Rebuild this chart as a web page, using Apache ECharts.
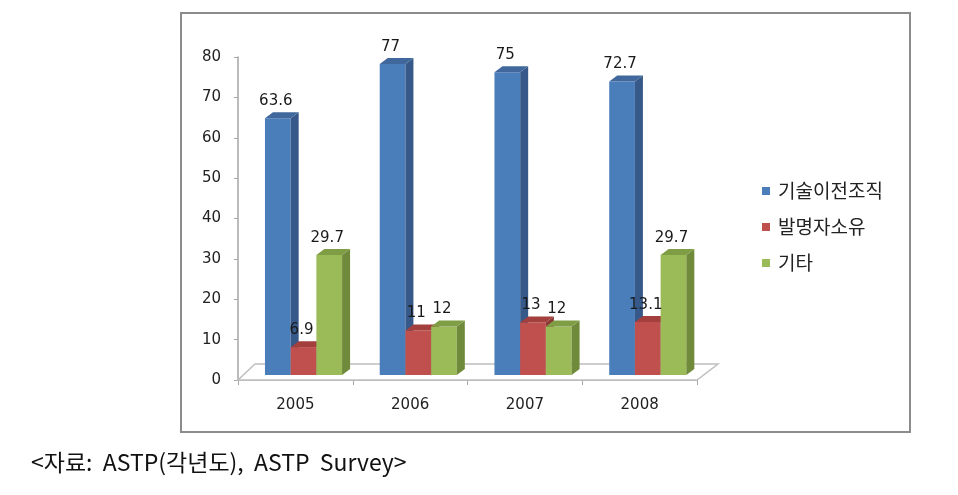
<!DOCTYPE html>
<html>
<head>
<meta charset="utf-8">
<script src="https://cdn.jsdelivr.net/npm/echarts@6/dist/echarts.min.js"></script>
<style>
html,body{margin:0;padding:0;background:#fff;}
#c{width:958px;height:495px;}
</style>
</head>
<body>
<div id="c"></div>
<script>
var categories = ['2005', '2006', '2007', '2008'];
var seriesNames = ['기술이전조직', '발명자소유', '기타'];
var techTransfer = [63.6, 77, 75, 72.7];
var inventorOwned = [6.9, 11, 13, 13.1];
var others = [29.7, 12, 12, 29.7];
var yTicks = [0, 10, 20, 30, 40, 50, 60, 70, 80];
var caption = '<자료:  ASTP(각년도),  ASTP  Survey>';

var palettes = [
  {front: '#4A7EBB', side: '#36598A', top: '#40689C'},
  {front: '#C0504D', side: '#8C3936', top: '#A33F3C'},
  {front: '#9BBB59', side: '#6F8A3B', top: '#7F9D45'}
];
var NUM_FONT = '"DejaVu Sans", Verdana, sans-serif';
var KR_FONT = '"Noto Sans CJK KR", sans-serif';

function makeRender(s) {
  var pal = palettes[s];
  return function (params, api) {
    var cat = api.value(0), v = api.value(1);
    var base = api.coord([cat, 0]);
    var topP = api.coord([cat, v]);
    var band = api.size([1, 0])[0];
    var w = band * 0.224;
    var x0 = base[0] - band * 0.265 + s * w;
    var lift = 5, dx = 8, dy = 6;
    var yb = base[1] - lift, yt = topP[1] - lift;
    return {
      type: 'group',
      children: [
        {type: 'rect', shape: {x: x0, y: yt, width: w, height: yb - yt}, style: {fill: pal.front}},
        {type: 'polygon', shape: {points: [[x0 + w, yb], [x0 + w + dx, yb - dy], [x0 + w + dx, yt - dy], [x0 + w, yt]]}, style: {fill: pal.side}},
        {type: 'polygon', shape: {points: [[x0, yt], [x0 + w, yt], [x0 + w + dx, yt - dy], [x0 + dx, yt - dy]]}, style: {fill: pal.top}},
        {type: 'text', z2: 10, style: {x: x0 + w / 2 - 2, y: yt - 17, text: String(v), align: 'center', verticalAlign: 'middle', fill: '#1a1a1a', font: '15px ' + NUM_FONT}}
      ]
    };
  };
}

function toData(arr) { return arr.map(function (v, i) { return [i, v]; }); }
var valueArrays = [techTransfer, inventorOwned, others];

var series = [{
  type: 'custom',
  name: 'floor',
  silent: true,
  z: 1,
  data: [[0, 0]],
  renderItem: function (params, api) {
    var cs = params.coordSys;
    var yb = cs.y + cs.height;
    var x1 = cs.x, x2 = cs.x + cs.width;
    var fdx = 18, fdy = 16;
    return {
      type: 'polygon',
      shape: {points: [[x1, yb], [x2, yb], [x2 + fdx + 3, yb - fdy], [x1 + fdx - 1, yb - fdy]]},
      style: {fill: '#fff', stroke: '#bfbfbf', lineWidth: 1.5}
    };
  }
}];
seriesNames.forEach(function (n, s) {
  series.push({
    type: 'custom',
    name: n,
    z: 3,
    itemStyle: {color: palettes[s].front},
    encode: {x: 0, y: 1},
    data: toData(valueArrays[s]),
    renderItem: makeRender(s)
  });
});

var chart = echarts.init(document.getElementById('c'));
chart.setOption({
  animation: false,
  backgroundColor: '#fff',
  title: {
    text: caption,
    left: 26, top: 446,
    textStyle: {fontFamily: KR_FONT, fontSize: 23, fontWeight: 'normal', color: '#111'}
  },
  graphic: [{
    type: 'rect', z: 0,
    shape: {x: 181, y: 13, width: 729, height: 419},
    style: {fill: 'none', stroke: '#8c8c8c', lineWidth: 2}
  }],
  legend: {
    orient: 'vertical',
    left: 757, top: 175,
    data: seriesNames,
    icon: 'rect',
    itemWidth: 8, itemHeight: 8,
    itemGap: 14,
    textStyle: {fontFamily: KR_FONT, fontSize: 19, color: '#222', lineHeight: 22, padding: [0, 0, 0, 3]}
  },
  grid: {left: 238, right: 261, top: 57, bottom: 115},
  xAxis: {
    type: 'category',
    data: categories,
    axisLine: {lineStyle: {color: '#a6a6a6', width: 1.5}},
    axisTick: {show: true, length: 5, lineStyle: {color: '#a6a6a6'}},
    axisLabel: {margin: 18, fontFamily: NUM_FONT, fontSize: 15, color: '#222'}
  },
  yAxis: {
    type: 'value',
    min: yTicks[0], max: yTicks[yTicks.length - 1], interval: 10,
    axisLine: {show: true, lineStyle: {color: '#a6a6a6', width: 1.5}},
    axisTick: {show: true, length: 4, lineStyle: {color: '#a6a6a6'}},
    splitLine: {show: false},
    axisLabel: {margin: 17, fontFamily: NUM_FONT, fontSize: 15, color: '#222'}
  },
  series: series
});
</script>
</body>
</html>
